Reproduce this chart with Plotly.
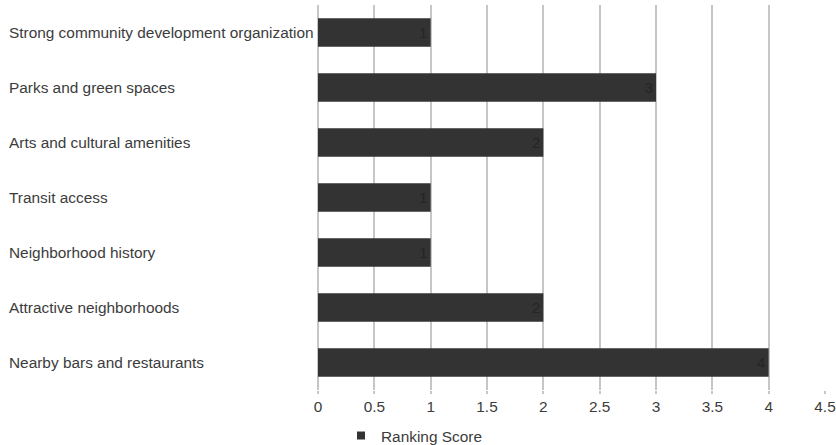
import plotly.graph_objects as go

categories = [
    "Strong community development organization",
    "Parks and green spaces",
    "Arts and cultural amenities",
    "Transit access",
    "Neighborhood history",
    "Attractive neighborhoods",
    "Nearby bars and restaurants",
]
scores = [1, 3, 2, 1, 1, 2, 4]
series_name = "Ranking Score"
x_ticks = [0, 0.5, 1, 1.5, 2, 2.5, 3, 3.5, 4, 4.5]
x_tick_labels = ["0", "0.5", "1", "1.5", "2", "2.5", "3", "3.5", "4", "4.5"]

BAR = "#333333"
GRID = "#c6c6c6"
TEXT = "#3c3c3c"
FONT = "Liberation Sans, Arial, sans-serif"
FS = 15.4

W, H = 836, 445
ML, MR, MT, MB = 318, 11, 5, 55
plot_w = W - ML - MR

fig = go.Figure()
fig.add_trace(go.Bar(
    y=categories,
    x=scores,
    orientation="h",
    marker=dict(color=BAR, line=dict(width=0)),
    width=0.52,
    text=[str(v) for v in scores],
    textposition="inside",
    insidetextanchor="end",
    constraintext="none",
    textfont=dict(family=FONT, size=FS, color="#252525"),
    showlegend=False,
    hoverinfo="x+y",
))
# legend entry drawn as a small square
fig.add_trace(go.Scatter(
    x=[None], y=[None],
    mode="markers",
    marker=dict(symbol="square", size=8, color=BAR),
    name=series_name,
    showlegend=True,
))

# left-aligned category labels
for cat in categories:
    fig.add_annotation(
        x=(7 - ML) / plot_w, xref="paper", xanchor="left",
        y=cat, yref="y", yanchor="middle",
        text=cat, showarrow=False,
        font=dict(family=FONT, size=FS, color=TEXT),
    )

fig.update_layout(
    width=W, height=H,
    margin=dict(l=ML, r=MR, t=MT, b=MB),
    paper_bgcolor="white",
    plot_bgcolor="white",
    font=dict(family=FONT, size=FS, color=TEXT),
    legend=dict(
        orientation="h",
        x=(341 - ML) / plot_w, xanchor="left",
        yref="container", y=(H - 436) / H, yanchor="middle",
        font=dict(family=FONT, size=FS, color=TEXT),
        itemwidth=30,
        bgcolor="rgba(0,0,0,0)",
    ),
    xaxis=dict(
        range=[0, 4.5],
        tickvals=x_ticks,
        ticktext=x_tick_labels,
        showgrid=True,
        gridcolor=GRID,
        gridwidth=2,
        zeroline=True,
        zerolinecolor=GRID,
        zerolinewidth=2,
        showline=False,
        ticks="outside",
        ticklen=3,
        tickwidth=2,
        tickcolor=GRID,
        tickfont=dict(family=FONT, size=FS, color=TEXT),
        automargin=False,
        fixedrange=True,
    ),
    yaxis=dict(
        categoryorder="array",
        categoryarray=categories,
        autorange="reversed",
        showgrid=False,
        zeroline=False,
        showline=False,
        showticklabels=False,
        ticks="",
        automargin=False,
        fixedrange=True,
    ),
)

fig.write_html("out.html")
